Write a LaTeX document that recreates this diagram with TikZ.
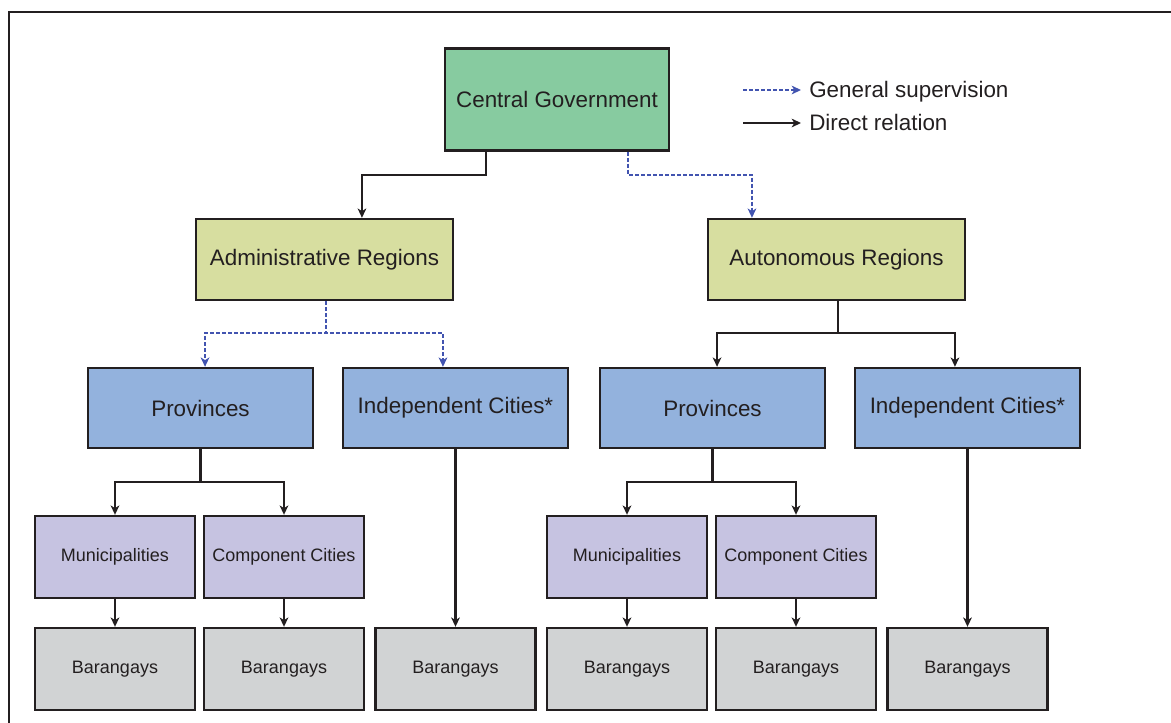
\documentclass[tikz,border=0pt]{standalone}
\usepackage{fontspec}
\setmainfont{Liberation Sans}
\usetikzlibrary{arrows.meta,shadows}
\definecolor{inkdark}{HTML}{231F20}
\definecolor{govgreen}{HTML}{87CBA0}
\definecolor{regionyellow}{HTML}{D7DEA0}
\definecolor{provblue}{HTML}{93B2DD}
\definecolor{munlav}{HTML}{C6C3E1}
\definecolor{brggray}{HTML}{D1D3D4}
\definecolor{supblue}{HTML}{4254B0}
\tikzset{
  box/.style={draw=inkdark, line width=1.8pt, inner sep=0pt, align=center,
    text=inkdark, font=\fontsize{16.8}{20}\selectfont,
    drop shadow={shadow xshift=1pt, shadow yshift=-1pt, fill=inkdark, opacity=1}},
  bigbox/.style={box, minimum width=168pt, minimum height=76.5pt, fill=govgreen},
  regbox/.style={box, minimum width=192.75pt, minimum height=60.75pt, fill=regionyellow},
  provbox/.style={box, minimum width=168.75pt, minimum height=60pt, fill=provblue},
  munbox/.style={box, minimum width=120pt, minimum height=61.5pt, fill=munlav,
    font=\fontsize{13.5}{16}\selectfont},
  brgbox/.style={box, minimum width=120pt, minimum height=61.5pt, fill=brggray,
    font=\fontsize{13.5}{16}\selectfont},
  tip/.style={-{Stealth[length=7pt, width=6.5pt, inset=2pt]}},
  direct/.style={draw=inkdark, line width=1.6pt, tip},
  superv/.style={draw=supblue, line width=1.7pt, dash pattern=on 3pt off 1.5pt, tip},
  legendtext/.style={inner sep=0pt, anchor=base west, text=inkdark,
    font=\fontsize{16.8}{20}\selectfont}
}
\begin{document}
\begin{tikzpicture}[x=0.75pt,y=-0.75pt]
\useasboundingbox (0,0) rectangle (1171,722);
% outer frame
\draw[inkdark, line width=1.6pt] (9,12) rectangle (1190,740);

% level 1
\node[bigbox] (cg) at (557,99.5) {Central Government};

% legend
\coordinate (lgA1) at (743,90);
\coordinate (lgA2) at (801,90);
\coordinate (lgB1) at (743,123);
\coordinate (lgB2) at (801,123);
\draw[superv] (lgA1) -- (lgA2);
\draw[direct] (lgB1) -- (lgB2);
\node[legendtext] (lgAt) at (809,97) {General supervision};
\node[legendtext] (lgBt) at (809,130) {Direct relation};

% level 2
\node[regbox] (adm) at (324.5,259.5) {Administrative Regions};
\node[regbox] (aut) at (836.5,259.5) {Autonomous Regions};

% level 3
\node[provbox] (provL) at (200.5,408) {Provinces};
\node[provbox] (icL)   at (455.5,408) {Independent Cities*};
\node[provbox] (provR) at (712.5,408) {Provinces};
\node[provbox] (icR)   at (967.5,408) {Independent Cities*};

% level 4
\node[munbox] (munL)  at (115,557) {Municipalities};
\node[munbox] (compL) at (284,557) {Component Cities};
\node[munbox] (munR)  at (627,557) {Municipalities};
\node[munbox] (compR) at (796,557) {Component Cities};

% level 5
\node[brgbox] (b1) at (115,669) {Barangays};
\node[brgbox] (b2) at (284,669) {Barangays};
\node[brgbox] (b3) at (455.5,669) {Barangays};
\node[brgbox] (b4) at (627,669) {Barangays};
\node[brgbox] (b5) at (796,669) {Barangays};
\node[brgbox] (b6) at (967.5,669) {Barangays};

% central government links
\draw[direct] ([xshift=-53.25pt]cg.south) -- ++(0,23) -| ([xshift=28.1pt]adm.north);
\draw[superv] ([xshift=53.25pt]cg.south) -- ++(0,23) -| ([xshift=-63.4pt]aut.north);

% regions to provinces and independent cities
\draw[superv] ([xshift=1.1pt]adm.south) -- ++(0,32) -| ([xshift=3.4pt]provL.north);
\draw[superv] ([xshift=1.1pt]adm.south) -- ++(0,32) -| ([xshift=-9.4pt]icL.north);
\draw[direct] ([xshift=1.1pt]aut.south) -- ++(0,32) -| ([xshift=3.4pt]provR.north);
\draw[direct] ([xshift=1.1pt]aut.south) -- ++(0,32) -| ([xshift=-9.4pt]icR.north);

% provinces to municipalities and component cities
\draw[direct] (provL.south) -- ++(0,33) -| (munL.north);
\draw[direct] (provL.south) -- ++(0,33) -| (compL.north);
\draw[direct] (provR.south) -- ++(0,33) -| (munR.north);
\draw[direct] (provR.south) -- ++(0,33) -| (compR.north);

% down to barangays
\draw[direct] (icL.south) -- (b3.north);
\draw[direct] (icR.south) -- (b6.north);
\draw[direct] (munL.south) -- (b1.north);
\draw[direct] (compL.south) -- (b2.north);
\draw[direct] (munR.south) -- (b4.north);
\draw[direct] (compR.south) -- (b5.north);
\end{tikzpicture}
\end{document}
